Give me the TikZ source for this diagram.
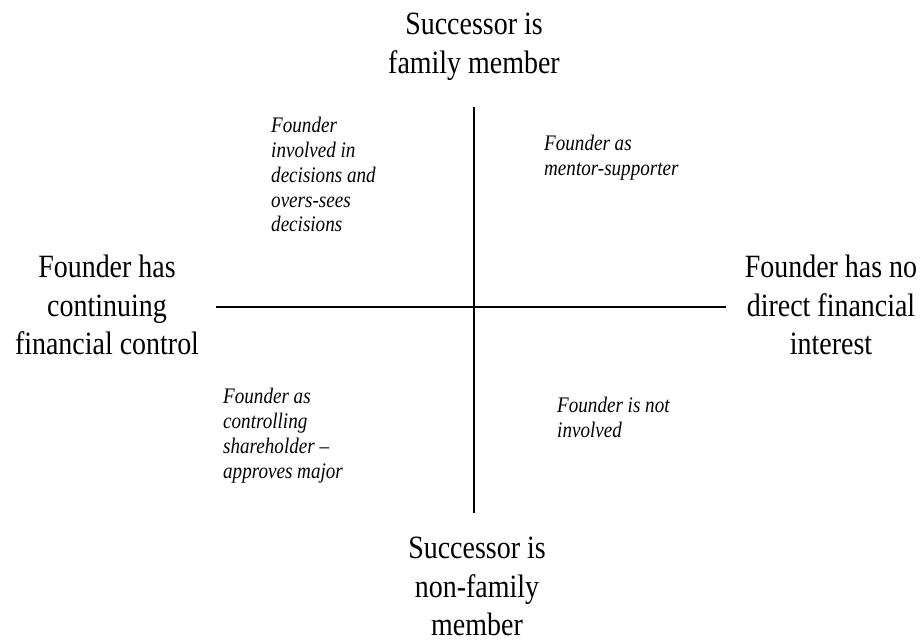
\documentclass[tikz,border=0pt]{standalone}
\usepackage{fontspec}
\setmainfont{Liberation Serif}[FakeStretch=0.86]
\usepackage{tikz}
\usetikzlibrary{positioning}

\tikzset{
  axislabel/.style={align=center, inner sep=0pt, anchor=north,
    font=\fontsize{32.5}{38.5}\selectfont},
  quadtext/.style={align=left, inner sep=0pt, anchor=north west,
    font=\fontsize{22.2}{24.8}\selectfont\itshape},
  axis/.style={line width=2.2pt}
}

\begin{document}
\begin{tikzpicture}[x=1pt, y=-1pt]
      \useasboundingbox (0, 0) rectangle (920, 641);

      % ends of the two axes
      \coordinate (top) at (474, 107);
      \coordinate (bottom) at (474, 513);
      \coordinate (left) at (216, 307);
      \coordinate (right) at (726, 307);

      \draw[axis] (top) -- (bottom);
      \draw[axis] (left) -- (right);

      % axis labels
      \node[axislabel] (famlabel) at (474, 13) {Successor is\\family member};
      \node[axislabel] (nonfamlabel) at (477, 537) {Successor is\\non-family\\member};
      \node[axislabel] (controllabel) at (107, 255) {Founder has\\continuing\\financial control};
      \node[axislabel] (nointlabel) at (831, 255) {Founder has no\\direct financial\\interest};

      % quadrants
      \node[quadtext] (oversees) at (271, 117) {Founder\\involved in\\decisions and\\overs-sees\\decisions};
      \node[quadtext] (mentor) at (544, 135) {Founder as\\mentor-supporter};
      \node[quadtext] (shareholder) at (223, 388) {Founder as\\controlling\\shareholder --\\approves major};
      \node[quadtext] (notinv) at (557, 397) {Founder is not\\involved};
    \end{tikzpicture}
\end{document}
